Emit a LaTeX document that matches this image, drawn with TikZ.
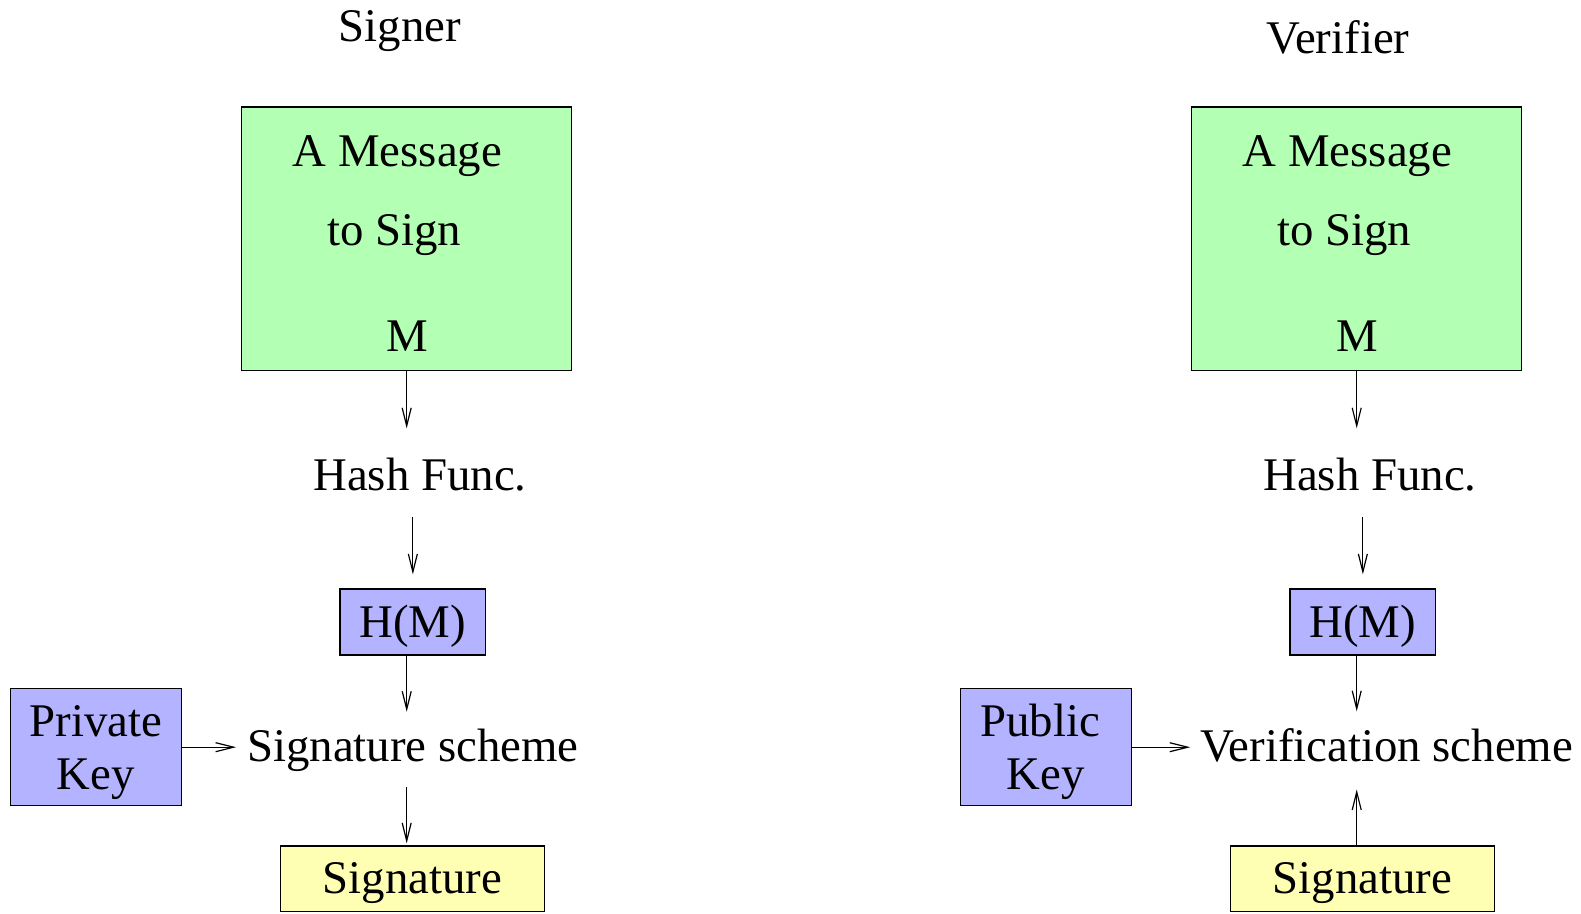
\documentclass[tikz,border=0pt]{standalone}
\usepackage{fontspec}
\setmainfont{Liberation Serif}
\usetikzlibrary{arrows.meta}
\definecolor{msgfill}{HTML}{B3FFB3}
\definecolor{keyfill}{HTML}{B3B3FF}
\definecolor{sigfill}{HTML}{FFFFB3}
\begin{document}
\begin{tikzpicture}[x=1pt,y=-1pt,
  font=\fontsize{46.8}{53}\selectfont,
  box/.style={draw=black, line width=1.2pt, inner sep=0pt},
  onerow/.style={text height=30pt, text depth=0pt},
  tworow/.style={align=center, text height=83.6pt, text depth=0pt},
  lbl/.style={inner sep=0pt, anchor=base},
  arr/.style={line width=1.2pt, -{Straight Barb[length=18pt,width=9pt,line width=1.2pt]}}]
\useasboundingbox (0,0) rectangle (1581,913);

% ---------------- signer ----------------
\node[lbl] (signer) at (400,41) {Signer};
\node[box, fill=msgfill, minimum width=330pt, minimum height=263.7pt] (msgL) at (406.7,238.9) {};
\node[lbl] (msgLa) at (397.5,166.7) {A Message};
\node[lbl] (msgLb) at (394,245) {to Sign};
\node[lbl] (msgLm) at (407,351.7) {M};
\node[lbl] (hashL) at (420,490) {Hash Func.};
\node[box, onerow, fill=keyfill, minimum width=145.7pt, minimum height=66pt] (hmL) at (412.85,622) {H(M)};
\node[lbl] (schemeL) at (413,761) {Signature scheme};
\node[box, tworow, fill=keyfill, minimum width=171.4pt, minimum height=117pt] (keyL) at (95.8,747.2) {Private\\Key};
\node[box, onerow, fill=sigfill, minimum width=264.2pt, minimum height=65.5pt] (sigL) at (412.4,878.7) {Signature};

\draw[arr, shorten >=29pt] (msgL.south) -- (msgL.south |- hashL.north);
\draw[arr, shorten <=26pt, shorten >=14pt] (hmL.north |- hashL.south) -- (hmL.north);
\draw[arr, shorten >=16.6pt] (msgL.south |- hmL.south) -- (msgL.south |- schemeL.north);
\draw[arr, shorten >=11pt] (keyL.east) -- (schemeL.west |- keyL.east);
\draw[arr, shorten <=15.5pt, shorten >=2pt] (msgL.south |- schemeL.south) -- (msgL.south |- sigL.north);

% ---------------- verifier ----------------
\node[lbl] (verifier) at (1338,53.3) {Verifier};
\node[box, fill=msgfill, minimum width=330pt, minimum height=263.7pt] (msgR) at (1356.7,238.9) {};
\node[lbl] (msgRa) at (1347.5,166.7) {A Message};
\node[lbl] (msgRb) at (1344,245) {to Sign};
\node[lbl] (msgRm) at (1357,351.7) {M};
\node[lbl] (hashR) at (1370,490) {Hash Func.};
\node[box, onerow, fill=keyfill, minimum width=145.7pt, minimum height=66pt] (hmR) at (1362.85,622) {H(M)};
\node[lbl] (schemeR) at (1386.5,761) {Verification scheme};
\node[box, tworow, fill=keyfill, minimum width=171.4pt, minimum height=117pt] (keyR) at (1045.8,747.2) {Public\hspace*{11pt}\\Key};
\node[box, onerow, fill=sigfill, minimum width=264.2pt, minimum height=65.5pt] (sigR) at (1362.4,878.7) {Signature};

\draw[arr, shorten >=29pt] (msgR.south) -- (msgR.south |- hashR.north);
\draw[arr, shorten <=26pt, shorten >=14pt] (hmR.north |- hashR.south) -- (hmR.north);
\draw[arr, shorten >=16.6pt] (msgR.south |- hmR.south) -- (msgR.south |- schemeR.north);
\draw[arr, shorten >=9.6pt] (keyR.east) -- (schemeR.west |- keyR.east);
\draw[arr, shorten >=27.5pt] (msgR.south |- sigR.north) -- (msgR.south |- schemeR.south);
\end{tikzpicture}
\end{document}
